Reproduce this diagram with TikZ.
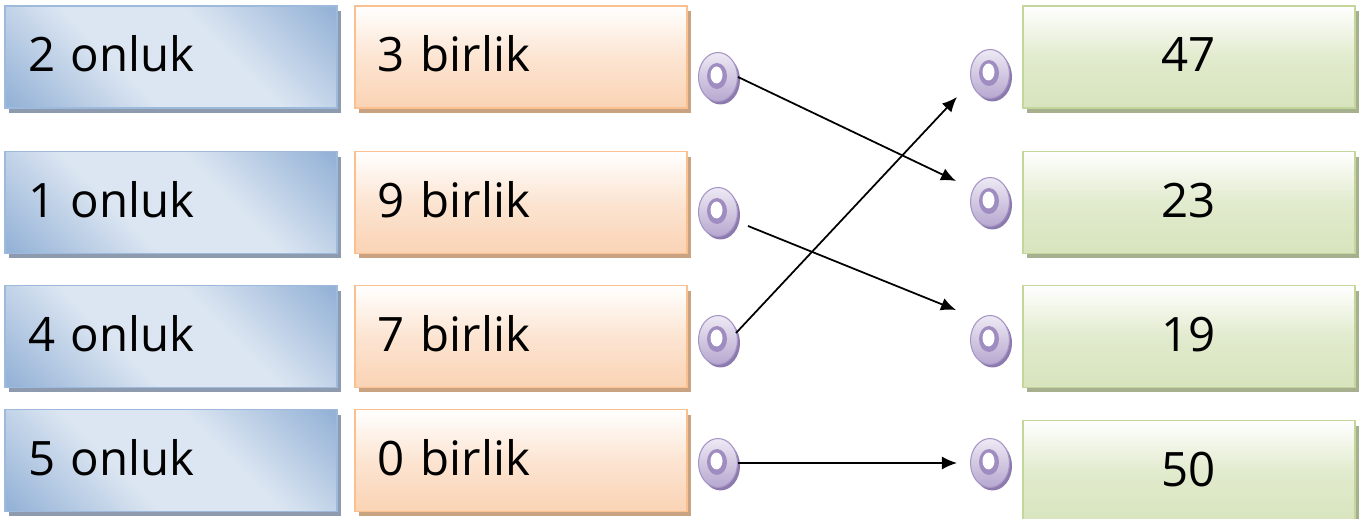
\documentclass[tikz,border=0pt]{standalone}
\usepackage{fontspec}
\setmainfont{Open Sans}
\usetikzlibrary{arrows.meta, shadows, shapes.geometric, positioning}
\definecolor{tensDark}{HTML}{95B3D7}
\definecolor{tensLight}{HTML}{DCE6F2}
\definecolor{tensEdge}{HTML}{9DBADD}
\definecolor{tensShadow}{HTML}{8E9BAF}
\definecolor{onesLow}{HTML}{FAD3B4}
\definecolor{onesEdge}{HTML}{FAC090}
\definecolor{onesShadow}{HTML}{C9A282}
\definecolor{numLow}{HTML}{D7E4BD}
\definecolor{numEdge}{HTML}{C3D69B}
\definecolor{numShadow}{HTML}{A6B08F}
\definecolor{ringTop}{HTML}{EEEAF4}
\definecolor{ringLow}{HTML}{B6A7D0}
\definecolor{ringEdge}{HTML}{A594C4}
\definecolor{ringHole}{HTML}{9F8CC0}
\definecolor{ringShadow}{HTML}{8C7AAE}
\pgfdeclarehorizontalshading{tensshade}{100bp}{color(0bp)=(tensDark); color(16bp)=(tensDark); color(40bp)=(tensLight); color(60bp)=(tensLight); color(84bp)=(tensDark); color(100bp)=(tensDark)}

\begin{document}
\begin{tikzpicture}[
            x=0.02cm, y=-0.02cm,
            >={Latex[width=2.6mm,length=3mm]},
                base/.style = {rectangle, line width=1.1pt, minimum width=6.64cm,
                            minimum height=2.04cm, text width=5.72cm, inner xsep=0.46cm,
                            text height=0.6cm, text depth=0cm,
                            font=\fontsize{27}{30}\selectfont},
                tensbox/.style = {base, draw=tensEdge, shading=tensshade, shading angle=45,
                            align=left, drop shadow={shadow xshift=0.08cm, shadow yshift=-0.1cm,
                            fill=tensShadow, opacity=1}},
                onesbox/.style = {base, draw=onesEdge, top color=white, bottom color=onesLow,
                            middle color=onesLow!60, align=left, drop shadow={shadow xshift=0.08cm,
                            shadow yshift=-0.1cm, fill=onesShadow, opacity=1}},
                numbox/.style = {base, draw=numEdge, top color=white, bottom color=numLow,
                            middle color=numLow!75, align=center, drop shadow={shadow xshift=0.08cm,
                            shadow yshift=-0.1cm, fill=numShadow, opacity=1}},
                ring/.style = {ellipse, minimum width=0.78cm, minimum height=0.98cm, inner sep=0pt,
                            draw=ringEdge, line width=0.6pt, top color=ringTop, bottom color=ringLow,
                            drop shadow={shadow xshift=0.05cm, shadow yshift=-0.06cm,
                            fill=ringShadow, opacity=1},
                            path picture={
                                \fill[ringHole] ([xshift=-0.02cm, yshift=0.02cm]path picture bounding box.center) ellipse (0.2cm and 0.26cm);
                                \fill[white] ([xshift=-0.03cm, yshift=0.04cm]path picture bounding box.center) ellipse (0.12cm and 0.17cm);
                            }},
            node distance=7cm,
            line width=1pt]
            \useasboundingbox (0,0) rectangle (1368,519);
            \clip (0,0) rectangle (1368,519);
            \node (TwoTens) [tensbox] at (171,57) {
                2 onluk
            };
            \node (OneTen) [tensbox] at (171,202.5) {
                1 onluk
            };
            \node (FourTens) [tensbox] at (171,336.5) {
                4 onluk
            };
            \node (FiveTens) [tensbox] at (171,460.5) {
                5 onluk
            };
            \node (ThreeOnes) [onesbox, right of=TwoTens] {
                3 birlik
            };
            \node (NineOnes) [onesbox, right of=OneTen] {
                9 birlik
            };
            \node (SevenOnes) [onesbox, right of=FourTens] {
                7 birlik
            };
            \node (ZeroOnes) [onesbox, right of=FiveTens] {
                0 birlik
            };
            \node (FortySeven) [numbox, right of=ThreeOnes, xshift=6.36cm] {
                47
            };
            \node (TwentyThree) [numbox, right of=NineOnes, xshift=6.36cm] {
                23
            };
            \node (Nineteen) [numbox, right of=SevenOnes, xshift=6.36cm] {
                19
            };
            \node (Fifty) [numbox, right of=ZeroOnes, xshift=6.36cm, yshift=-0.22cm] {
                50
            };
            \node (ThreeDot) [ring] at (718,77) {};
            \node (NineDot) [ring] at (718,212) {};
            \node (SevenDot) [ring] at (718,340) {};
            \node (ZeroDot) [ring] at (718,463) {};
            \node (FortySevenDot) [ring] at (990,74) {};
            \node (TwentyThreeDot) [ring] at (990,202) {};
            \node (NineteenDot) [ring] at (990,340) {};
            \node (FiftyDot) [ring] at (990,463) {};
            \draw[->]  (ThreeDot.east)    -- ([xshift=-0.28cm, yshift=0.42cm]TwentyThreeDot.west);
            \draw[->]  ([xshift=0.6cm, yshift=-0.28cm]NineDot.center)    -- ([xshift=-0.28cm, yshift=0.6cm]NineteenDot.west);
            \draw[->]  ([xshift=0.36cm, yshift=0.14cm]SevenDot.center)   -- ([xshift=-0.26cm, yshift=-0.46cm]FortySevenDot.west);
            \draw[->]  (ZeroDot.east)     -- ([xshift=-0.26cm]FiftyDot.west);
        \end{tikzpicture}
\end{document}
